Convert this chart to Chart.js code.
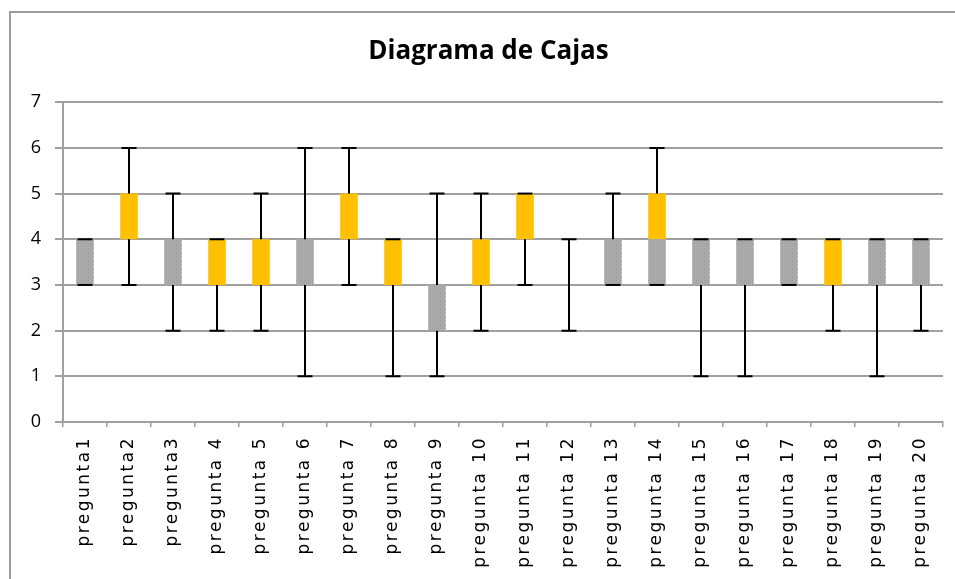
<!DOCTYPE html>
<html>
<head>
<meta charset="utf-8">
<script src="https://cdn.jsdelivr.net/npm/chart.js@4/dist/chart.umd.min.js"></script>
<style>
  html, body { margin: 0; padding: 0; background: #ffffff; }
  #wrap { position: relative; width: 955px; height: 579px; overflow: hidden; background: #fff; }
  #frame { position: absolute; left: 9px; top: 11px; width: 1000px; height: 700px;
           border-left: 2px solid #9c9c9c; border-top: 2px solid #9c9c9c; pointer-events: none; }
  canvas { position: absolute; left: 0; top: 0; }
</style>
</head>
<body>
<div id="wrap">
  <canvas id="c" width="955" height="579"></canvas>
  <div id="frame"></div>
</div>
<script>
// ---- Data ----
const categories = ["pregunta1","pregunta2","pregunta3","pregunta 4","pregunta 5","pregunta 6","pregunta 7",
  "pregunta 8","pregunta 9","pregunta 10","pregunta 11","pregunta 12","pregunta 13","pregunta 14",
  "pregunta 15","pregunta 16","pregunta 17","pregunta 18","pregunta 19","pregunta 20"];
const minValues    = [3,3,2,2,2,1,3,1,1,2,3,2,3,3,1,1,3,2,1,2];
const q1Values     = [3,4,3,3,3,3,4,3,2,3,4,4,3,3,3,3,3,3,3,3];
const medianValues = [4,4,4,3,3,4,4,3,3,3,4,4,4,4,4,4,4,3,4,4];
const q3Values     = [4,5,4,4,4,4,5,4,3,4,5,4,4,5,4,4,4,4,4,4];
const maxValues    = [4,6,5,4,5,6,6,4,5,5,5,4,5,6,4,4,4,4,4,4];
const yTicks = [0,1,2,3,4,5,6,7];
const chartTitle = "Diagrama de Cajas";

// derived stacked segments
const lowerBox = medianValues.map((m, i) => m - q1Values[i]);
const upperBox = q3Values.map((q, i) => q - medianValues[i]);

// dotted gray texture like the Excel fill
function grayPattern() {
  const pc = document.createElement('canvas');
  pc.width = 4; pc.height = 4;
  const p = pc.getContext('2d');
  p.fillStyle = '#ababab'; p.fillRect(0, 0, 4, 4);
  p.fillStyle = '#969696'; p.fillRect(0, 0, 1, 1); p.fillRect(2, 2, 1, 1);
  return p.createPattern(pc, 'repeat');
}

const whiskerPlugin = {
  id: 'whiskers',
  afterDatasetsDraw(chart) {
    const xs = chart.scales.x, ys = chart.scales.y, ctx = chart.ctx;
    const capHalf = 7.5;
    ctx.save();
    ctx.strokeStyle = '#000000';
    ctx.lineWidth = 2;
    categories.forEach((c, i) => {
      const cx = Math.round(xs.getPixelForValue(i));
      const segs = [[q3Values[i], maxValues[i]], [q1Values[i], minValues[i]]];
      segs.forEach(([from, to]) => {
        const y0 = ys.getPixelForValue(from), y1 = ys.getPixelForValue(to);
        ctx.beginPath();
        ctx.moveTo(cx, y0); ctx.lineTo(cx, y1);
        ctx.moveTo(cx - capHalf, y1); ctx.lineTo(cx + capHalf, y1);
        ctx.stroke();
      });
    });
    ctx.restore();
  }
};

const tweakPlugin = {
  id: 'tweaks',
  afterLayout(chart) {
    // shift the title block so it centres where the reference title sits
    const t = chart.titleBlock;
    if (t) { t.left += 12; t.right += 12; }
    const sx = chart.scales.x;
    if (sx && !sx._patched) {
      const orig = sx.drawLabels.bind(sx);
      sx.drawLabels = function (area) {
        const ctx = chart.ctx;
        ctx.save();
        ctx.letterSpacing = '2.5px';
        orig(area);
        ctx.restore();
      };
      sx._patched = true;
    }
  }
};

new Chart(document.getElementById('c'), {
  type: 'bar',
  data: {
    labels: categories,
    datasets: [
      { label: 'base', data: q1Values, backgroundColor: 'rgba(0,0,0,0)', borderWidth: 0 },
      { label: 'Q1-Mediana', data: lowerBox, backgroundColor: grayPattern(), borderWidth: 0 },
      { label: 'Mediana-Q3', data: upperBox, backgroundColor: '#FFC000', borderWidth: 0 }
    ]
  },
  options: {
    responsive: false,
    animation: false,
    events: [],
    layout: { padding: { left: 10, right: 12, top: 0, bottom: 0 } },
    datasets: { bar: { categoryPercentage: 1.0, barPercentage: 0.4 } },
    plugins: {
      legend: { display: false },
      tooltip: { enabled: false },
      title: {
        display: true,
        text: chartTitle,
        color: '#000000',
        font: { family: 'Open Sans', size: 26, weight: 'bold', lineHeight: 1.2 },
        padding: { top: 36, bottom: 35 }
      }
    },
    scales: {
      x: {
        stacked: true,
        grid: { display: true, drawOnChartArea: false, drawTicks: true, tickLength: 5, color: '#a0a0a0', lineWidth: 1.5, offset: true },
        border: { display: true, color: '#a0a0a0', width: 2 },
        ticks: {
          autoSkip: false, minRotation: 90, maxRotation: 90, padding: 9,
          color: '#000000', font: { family: 'DejaVu Sans', size: 17 }
        },
        afterFit(scale) { scale.height = 157; }
      },
      y: {
        stacked: true,
        min: 0, max: 7,
        afterBuildTicks(scale) { scale.ticks = yTicks.map(v => ({ value: v })); },
        grid: { color: '#a0a0a0', lineWidth: 2, tickLength: 8 },
        border: { display: true, color: '#a0a0a0', width: 2 },
        ticks: { color: '#000000', padding: 14, font: { family: 'Open Sans', size: 18 } },
        afterFit(scale) { scale.width = 53; }
      }
    }
  },
  plugins: [whiskerPlugin, tweakPlugin]
});
</script>
</body>
</html>
